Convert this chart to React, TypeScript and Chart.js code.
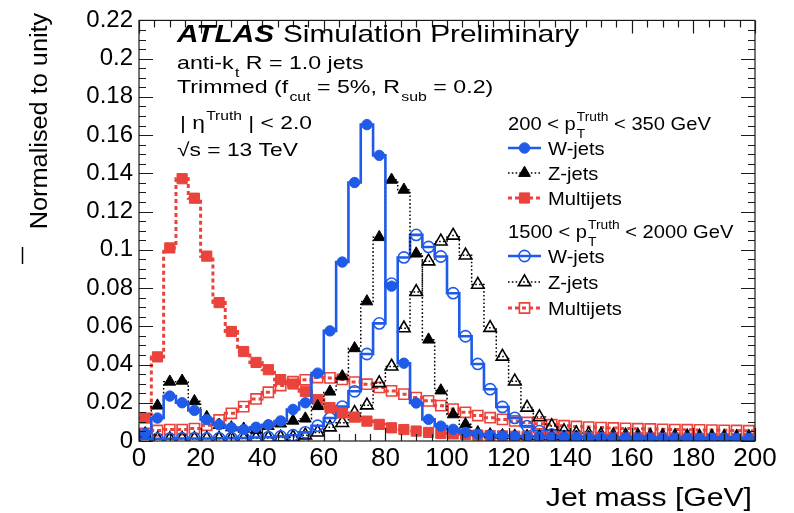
import { useEffect, useRef } from 'react';
import { Chart, registerables } from 'chart.js';

Chart.register(...registerables);

// Jet mass bins: 4 GeV wide, centres from 2 to 198 GeV
const binCenters = [
  2, 6, 10, 14, 18, 22, 26, 30, 34, 38, 42, 46, 50, 54, 58, 62, 66, 70, 74, 78,
  82, 86, 90, 94, 98, 102, 106, 110, 114, 118, 122, 126, 130, 134, 138, 142, 146, 150, 154, 158,
  162, 166, 170, 174, 178, 182, 186, 190, 194, 198,
];

// 200 < pT < 350 GeV
const wJetsLowPt = [
  0.004, 0.012, 0.0235, 0.02, 0.016, 0.0112, 0.0085, 0.007, 0.006, 0.0072,
  0.0085, 0.0105, 0.0165, 0.02, 0.0355, 0.0576, 0.0936, 0.1352, 0.1655, 0.1494,
  0.081, 0.0407, 0.0199, 0.0113, 0.0078, 0.0061, 0.0045, 0.0036, 0.003, 0.0027,
  0.0025, 0.0023, 0.0021, 0.002, 0.0019, 0.0018, 0.0017, 0.0017, 0.0016, 0.0016,
  0.0015, 0.0015, 0.0014, 0.0014, 0.0014, 0.0013, 0.0013, 0.0013, 0.0012, 0.0012,
];
const zJetsLowPt = [
  0.004, 0.0185, 0.031, 0.0315, 0.0208, 0.0125, 0.0083, 0.0071, 0.0064, 0.0058,
  0.0078, 0.0091, 0.0106, 0.0117, 0.0182, 0.0258, 0.0338, 0.0485, 0.073, 0.1066,
  0.1366, 0.1314, 0.098, 0.053, 0.0264, 0.0139, 0.0087, 0.0045, 0.0035, 0.003,
  0.0028, 0.0026, 0.0024, 0.0023, 0.0022, 0.0021, 0.002, 0.002, 0.0019, 0.0019,
  0.0018, 0.0018, 0.0017, 0.0017, 0.0017, 0.0016, 0.0016, 0.0016, 0.0015, 0.0015,
];
const multijetsLowPt = [
  0.012, 0.044, 0.101, 0.1372, 0.127, 0.0967, 0.0724, 0.0573, 0.0468, 0.0411,
  0.0373, 0.0321, 0.0298, 0.026, 0.0217, 0.0175, 0.0147, 0.0125, 0.0104, 0.0087,
  0.0069, 0.006, 0.0052, 0.0045, 0.004, 0.0037, 0.0034, 0.0031, 0.0029, 0.0027,
  0.0025, 0.0024, 0.0023, 0.0022, 0.0021, 0.002, 0.0019, 0.0018, 0.0018, 0.0017,
  0.0016, 0.0016, 0.0015, 0.0015, 0.0014, 0.0014, 0.0013, 0.0013, 0.0013, 0.0012,
];

// 1500 < pT < 2000 GeV
const wJetsHighPt = [
  0.0012, 0.0012, 0.0012, 0.0013, 0.0013, 0.0013, 0.0014, 0.0015, 0.0016, 0.0018,
  0.002, 0.0024, 0.003, 0.0045, 0.008, 0.012, 0.018, 0.026, 0.0455, 0.0615,
  0.0823, 0.096, 0.1078, 0.1015, 0.0965, 0.0773, 0.0548, 0.0403, 0.0271, 0.0178,
  0.0121, 0.0078, 0.0052, 0.0035, 0.0025, 0.0022, 0.002, 0.0019, 0.0018, 0.0017,
  0.0016, 0.0016, 0.0015, 0.0015, 0.0014, 0.0014, 0.0014, 0.0013, 0.0013, 0.0013,
];
const zJetsHighPt = [
  0.001, 0.001, 0.001, 0.0011, 0.0011, 0.0012, 0.0012, 0.0013, 0.0013, 0.0014,
  0.0016, 0.0018, 0.002, 0.003, 0.0045, 0.0072, 0.0095, 0.0147, 0.0187, 0.0303,
  0.039, 0.059, 0.078, 0.094, 0.1044, 0.1075, 0.0971, 0.0818, 0.0592, 0.0442,
  0.0312, 0.0175, 0.0125, 0.0078, 0.0052, 0.004, 0.0035, 0.0032, 0.003, 0.0028,
  0.0027, 0.0026, 0.0025, 0.0024, 0.0023, 0.0022, 0.0022, 0.0021, 0.002, 0.002,
];
const multijetsHighPt = [
  0.004, 0.0055, 0.006, 0.006, 0.0065, 0.0082, 0.011, 0.0145, 0.018, 0.022,
  0.0255, 0.029, 0.031, 0.032, 0.0332, 0.033, 0.0322, 0.0308, 0.0297, 0.028,
  0.0262, 0.0245, 0.0227, 0.021, 0.0185, 0.0167, 0.015, 0.0133, 0.0122, 0.0113,
  0.0105, 0.0097, 0.009, 0.0085, 0.008, 0.0076, 0.0073, 0.007, 0.0068, 0.0066,
  0.0064, 0.0063, 0.0061, 0.006, 0.0059, 0.0058, 0.0057, 0.0056, 0.0055, 0.0054,
];

const xTickValues = [0, 20, 40, 60, 80, 100, 120, 140, 160, 180, 200];
const yTickValues = [0, 0.02, 0.04, 0.06, 0.08, 0.1, 0.12, 0.14, 0.16, 0.18, 0.2, 0.22];

const X_MIN = 0;
const X_MAX = 200;
const Y_MAX = 0.22;

const FONT = "'Liberation Sans', Arial, Helvetica, sans-serif";
const BLUE = '#1f5be8';
const RED = '#e9433c';
const BLACK = '#000000';

type MarkerKind = 'circle' | 'triangle' | 'rect';
interface SeriesStyle {
  label: string;
  color: string;
  width: number;
  dash: number[];
  marker: MarkerKind;
  radius: number;
  open: boolean;
}

const lineStyles = {
  w: { color: BLUE, width: 2.6, dash: [] as number[] },
  z: { color: BLACK, width: 1.5, dash: [1.6, 2.2] },
  qcd: { color: RED, width: 3, dash: [4, 3] },
};

const lowPtStyles: SeriesStyle[] = [
  { label: 'W-jets', ...lineStyles.w, marker: 'circle', radius: 5.2, open: false },
  { label: 'Z-jets', ...lineStyles.z, marker: 'triangle', radius: 6.8, open: false },
  { label: 'Multijets', ...lineStyles.qcd, marker: 'rect', radius: 7.2, open: false },
];
const highPtStyles: SeriesStyle[] = [
  { label: 'W-jets', ...lineStyles.w, marker: 'circle', radius: 5.6, open: true },
  { label: 'Z-jets', ...lineStyles.z, marker: 'triangle', radius: 7.2, open: true },
  { label: 'Multijets', ...lineStyles.qcd, marker: 'rect', radius: 7.2, open: true },
];

function histDataset(values: number[], s: SeriesStyle) {
  // Pad each end with the edge bin value so the step outline spans the full axis.
  const data = [
    { x: X_MIN, y: values[0] },
    ...binCenters.map((c, i) => ({ x: c, y: values[i] })),
    { x: X_MAX, y: values[values.length - 1] },
  ];
  const radii = data.map((_, i) => (i === 0 || i === data.length - 1 ? 0 : s.radius));
  return {
    label: s.label,
    data,
    stepped: 'middle' as const,
    borderColor: s.color,
    borderWidth: s.width,
    borderDash: s.dash,
    fill: false,
    pointStyle: s.marker,
    pointRadius: radii,
    pointHoverRadius: radii,
    pointBackgroundColor: s.open ? 'rgba(255,255,255,0)' : s.color,
    pointBorderColor: s.color,
    pointBorderWidth: s.open ? 1.6 : 1,
  };
}

type Seg = { t: string; sup?: string; sub?: string };

function drawRich(
  ctx: CanvasRenderingContext2D,
  x: number,
  y: number,
  segs: Seg[],
  size: number,
  hs: number,
  style = '',
) {
  ctx.save();
  ctx.translate(x, y);
  ctx.scale(hs, 1);
  ctx.textAlign = 'left';
  ctx.textBaseline = 'alphabetic';
  ctx.fillStyle = '#000';
  const small = Math.round(size * 0.66);
  let cx = 0;
  for (const s of segs) {
    ctx.font = `${style}${size}px ${FONT}`;
    if (s.t) {
      ctx.fillText(s.t, cx, 0);
      cx += ctx.measureText(s.t).width;
    }
    ctx.font = `${small}px ${FONT}`;
    let w = 0;
    if (s.sup) {
      ctx.fillText(s.sup, cx + 1, -size * 0.45);
      w = ctx.measureText(s.sup).width + 1;
    }
    if (s.sub) {
      ctx.fillText(s.sub, cx + 1, size * 0.4);
      w = Math.max(w, ctx.measureText(s.sub).width + 1);
    }
    cx += w;
  }
  ctx.restore();
}

function drawMarker(ctx: CanvasRenderingContext2D, s: SeriesStyle, x: number, y: number) {
  const r = s.radius;
  ctx.save();
  ctx.setLineDash([]);
  ctx.beginPath();
  if (s.marker === 'circle') {
    ctx.arc(x, y, r, 0, Math.PI * 2);
  } else if (s.marker === 'triangle') {
    ctx.moveTo(x, y - r);
    ctx.lineTo(x + r * 0.866, y + r / 2);
    ctx.lineTo(x - r * 0.866, y + r / 2);
    ctx.closePath();
  } else {
    const h = r * Math.SQRT1_2;
    ctx.rect(x - h, y - h, 2 * h, 2 * h);
  }
  ctx.strokeStyle = s.color;
  ctx.lineWidth = s.open ? 1.6 : 1;
  if (!s.open) {
    ctx.fillStyle = s.color;
    ctx.fill();
  }
  ctx.stroke();
  ctx.restore();
}

function legendRow(ctx: CanvasRenderingContext2D, s: SeriesStyle, y: number) {
  ctx.save();
  ctx.strokeStyle = s.color;
  ctx.lineWidth = s.width;
  ctx.setLineDash(s.dash);
  ctx.beginPath();
  ctx.moveTo(508, y);
  ctx.lineTo(541, y);
  ctx.stroke();
  ctx.restore();
  drawMarker(ctx, s, 524.5, y);
  drawRich(ctx, 548, y + 7, [{ t: s.label }], 19, 1.06);
}

const decorations = {
  id: 'atlasDecorations',
  afterDraw(chart: Chart) {
    const { ctx, chartArea: a } = chart;
    const xs = chart.scales.x;
    const ys = chart.scales.y;
    ctx.save();

    // Frame with inward ticks on all four sides
    ctx.strokeStyle = '#1a1a1a';
    ctx.lineWidth = 1.2;
    ctx.setLineDash([]);
    ctx.strokeRect(a.left, a.top, a.right - a.left, a.bottom - a.top);
    ctx.beginPath();
    for (let v = X_MIN; v <= X_MAX + 1e-9; v += 5) {
      const px = Math.round(xs.getPixelForValue(v)) + 0.5;
      const len = v % 20 === 0 ? 13 : 7;
      ctx.moveTo(px, a.bottom);
      ctx.lineTo(px, a.bottom - len);
      ctx.moveTo(px, a.top);
      ctx.lineTo(px, a.top + len);
    }
    for (let i = 0; i <= 44; i++) {
      const v = i * 0.005;
      const py = Math.round(ys.getPixelForValue(v)) + 0.5;
      const len = i % 4 === 0 ? 14 : 7;
      ctx.moveTo(a.left, py);
      ctx.lineTo(a.left + len, py);
      ctx.moveTo(a.right, py);
      ctx.lineTo(a.right - len, py);
    }
    ctx.stroke();

    // Axis titles
    ctx.save();
    ctx.translate(47, 121);
    ctx.rotate(-Math.PI / 2);
    ctx.scale(1.1, 1);
    ctx.font = `23px ${FONT}`;
    ctx.fillStyle = '#000';
    ctx.textAlign = 'center';
    ctx.textBaseline = 'alphabetic';
    ctx.fillText('Normalised to unity', 0, 0);
    ctx.restore();

    ctx.save();
    ctx.translate(752, 506);
    ctx.scale(1.16, 1);
    ctx.font = `26px ${FONT}`;
    ctx.fillStyle = '#000';
    ctx.textAlign = 'right';
    ctx.fillText('Jet mass [GeV]', 0, 0);
    ctx.restore();

    ctx.strokeStyle = '#000';
    ctx.lineWidth = 1.5;
    ctx.beginPath();
    ctx.moveTo(22.5, 247);
    ctx.lineTo(22.5, 264);
    ctx.stroke();

    // Labels
    drawRich(ctx, 177, 42, [{ t: 'ATLAS' }], 24, 1.24, 'italic bold ');
    drawRich(ctx, 283, 42, [{ t: 'Simulation Preliminary' }], 24, 1.24);
    drawRich(ctx, 177, 69, [{ t: 'anti-k', sub: 't' }, { t: ' R = 1.0 jets' }], 19, 1.22);
    drawRich(ctx, 177, 93, [{ t: 'Trimmed (f', sub: 'cut' }, { t: ' = 5%, R', sub: 'sub' }, { t: ' = 0.2)' }], 19, 1.22);
    drawRich(ctx, 180, 129, [{ t: '| η', sup: 'Truth' }, { t: ' | < 2.0' }], 19, 1.2);
    drawRich(ctx, 177, 156, [{ t: '√s = 13 TeV' }], 19, 1.2);

    // Legend
    drawRich(ctx, 508, 130, [{ t: '200 < p', sup: 'Truth', sub: 'T' }, { t: ' < 350 GeV' }], 19, 1.06);
    legendRow(ctx, lowPtStyles[0], 148);
    legendRow(ctx, lowPtStyles[1], 173);
    legendRow(ctx, lowPtStyles[2], 198);
    drawRich(ctx, 508, 238, [{ t: '1500 < p', sup: 'Truth', sub: 'T' }, { t: ' < 2000 GeV' }], 19, 1.06);
    legendRow(ctx, highPtStyles[0], 256);
    legendRow(ctx, highPtStyles[1], 282);
    legendRow(ctx, highPtStyles[2], 308);

    ctx.restore();
  },
};

export default function App() {
  const canvasRef = useRef<HTMLCanvasElement | null>(null);

  useEffect(() => {
    const canvas = canvasRef.current;
    if (!canvas) return;
    const chart = new Chart(canvas, {
      type: 'line',
      data: {
        datasets: [
          histDataset(wJetsLowPt, lowPtStyles[0]),
          histDataset(zJetsLowPt, lowPtStyles[1]),
          histDataset(multijetsLowPt, lowPtStyles[2]),
          histDataset(wJetsHighPt, highPtStyles[0]),
          histDataset(zJetsHighPt, highPtStyles[1]),
          histDataset(multijetsHighPt, highPtStyles[2]),
        ],
      },
      options: {
        responsive: false,
        animation: false,
        events: [],
        layout: { padding: { top: 19, right: 39, left: 0, bottom: 0 } },
        plugins: {
          legend: { display: false },
          tooltip: { enabled: false },
        },
        scales: {
          x: {
            type: 'linear',
            min: X_MIN,
            max: X_MAX,
            grid: { display: false, drawTicks: false },
            border: { display: false },
            afterBuildTicks: (s: any) => {
              s.ticks = xTickValues.map((v) => ({ value: v }));
            },
            afterFit: (s: any) => {
              s.height = 72;
            },
            ticks: {
              autoSkip: false,
              maxRotation: 0,
              padding: 2,
              color: '#000',
              font: { family: FONT, size: 26 },
              callback: (v: any) => String(v),
            },
          },
          y: {
            type: 'linear',
            min: 0,
            max: Y_MAX,
            grid: { display: false, drawTicks: false },
            border: { display: false },
            afterBuildTicks: (s: any) => {
              s.ticks = yTickValues.map((v) => ({ value: v }));
            },
            afterFit: (s: any) => {
              s.width = 139;
            },
            ticks: {
              autoSkip: false,
              padding: 6,
              color: '#000',
              font: { family: FONT, size: 24 },
              callback: (v: any) => String(parseFloat(Number(v).toFixed(2))),
            },
          },
        },
      },
      plugins: [decorations],
    });
    return () => chart.destroy();
  }, []);

  return (
    <div style={{ position: 'fixed', left: 0, top: 0, width: 794, height: 513, background: '#fff' }}>
      <canvas ref={canvasRef} width={794} height={513} style={{ display: 'block' }} />
    </div>
  );
}
